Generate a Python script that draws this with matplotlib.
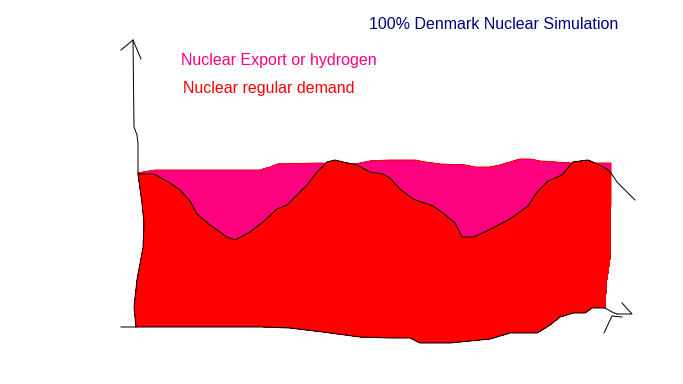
import matplotlib.pyplot as plt

supply_x = [138, 155, 260, 270, 278, 320, 355, 370, 390, 415, 425, 440, 465, 475, 490, 500, 510, 520, 530, 540, 570, 590, 611]
supply_y = [173, 170, 170, 167, 164, 163, 164, 161, 160, 160, 162, 164, 165, 167, 167, 165, 162, 159, 159, 161, 163, 163, 163]

demand_x = [138, 154, 170, 180, 190, 197, 210, 227, 235, 250, 263, 277, 287, 307, 317, 327, 335, 343, 357, 370, 383, 390, 400, 413, 433, 443, 455, 462, 473, 487, 510, 528, 537, 548, 562, 573, 588, 597, 607, 611]
demand_y = [174, 174, 183, 190, 201, 214, 225, 237, 240, 232, 222, 209, 205, 185, 172, 162, 160, 162, 165, 172, 174, 178, 189, 199, 206, 213, 223, 237, 237, 231, 219, 206, 192, 181, 175, 162, 160, 164, 169, 173]

# outline of the bottom, right to left
bottom_x = [611, 610, 607, 605, 592, 585, 573, 560, 550, 537, 510, 490, 450, 420, 410, 390, 360, 323, 290, 263, 136]
bottom_y = [206, 260, 280, 308, 308, 313, 313, 317, 325, 333, 333, 339, 343, 343, 338, 338, 337, 332, 328, 327, 327]

left_x = [134, 137, 143, 144, 142, 138]
left_y = [307, 280, 248, 223, 203, 174]

y_axis_x = [136, 134, 137, 143, 144, 142, 138, 138, 137, 134, 133]
y_axis_y = [327, 307, 280, 248, 223, 203, 174, 143, 135, 127, 40]
y_arrow_x = [121, 133, 141]
y_arrow_y = [50, 40, 59]

x_arrow_x = [622, 632, 617]
x_arrow_y = [303, 314, 314]
x_arrow2_x = [604, 612, 622]
x_arrow2_y = [333, 316, 317]

tail_x = [611, 617, 635]
tail_y = [173, 182, 200]

pen = dict(color='black', lw=0.72)

fig = plt.figure(figsize=(6.83, 3.84), dpi=100)
ax = fig.add_axes([0, 0, 1, 1])
ax.set_xlim(0, 683)
ax.set_ylim(384, 0)
ax.axis('off')

ax.fill(supply_x + demand_x[::-1], supply_y + demand_y[::-1], color='#ff007f', lw=0, antialiased=False)
ax.fill(demand_x + bottom_x + left_x, demand_y + bottom_y + left_y, color='#ff0000', lw=0, antialiased=False)
ax.plot(supply_x + [611], supply_y + [206], color='#ff0000', lw=0.72)

# black pen lines
ax.plot(demand_x + tail_x, demand_y + tail_y, **pen)
ax.plot(bottom_x[3:] + [121], bottom_y[3:] + [327], **pen)
ax.plot([605, 612, 617], [308, 312, 314], **pen)
ax.plot(y_axis_x, y_axis_y, **pen)
ax.plot(y_arrow_x, y_arrow_y, **pen)
ax.plot(x_arrow_x, x_arrow_y, **pen)
ax.plot(x_arrow2_x, x_arrow2_y, **pen)

ax.text(369, 24.6, '100% Denmark Nuclear Simulation', color='#000080', fontsize=11.5,
        family='Liberation Sans', va='center', ha='left')
ax.text(181, 60.5, 'Nuclear Export or hydrogen', color='#ff007f', fontsize=11.5,
        family='Liberation Sans', va='center', ha='left')
ax.text(183, 88.5, 'Nuclear regular demand', color='#ff0000', fontsize=11.5,
        family='Liberation Sans', va='center', ha='left')

fig.savefig('out.png', dpi=100)
